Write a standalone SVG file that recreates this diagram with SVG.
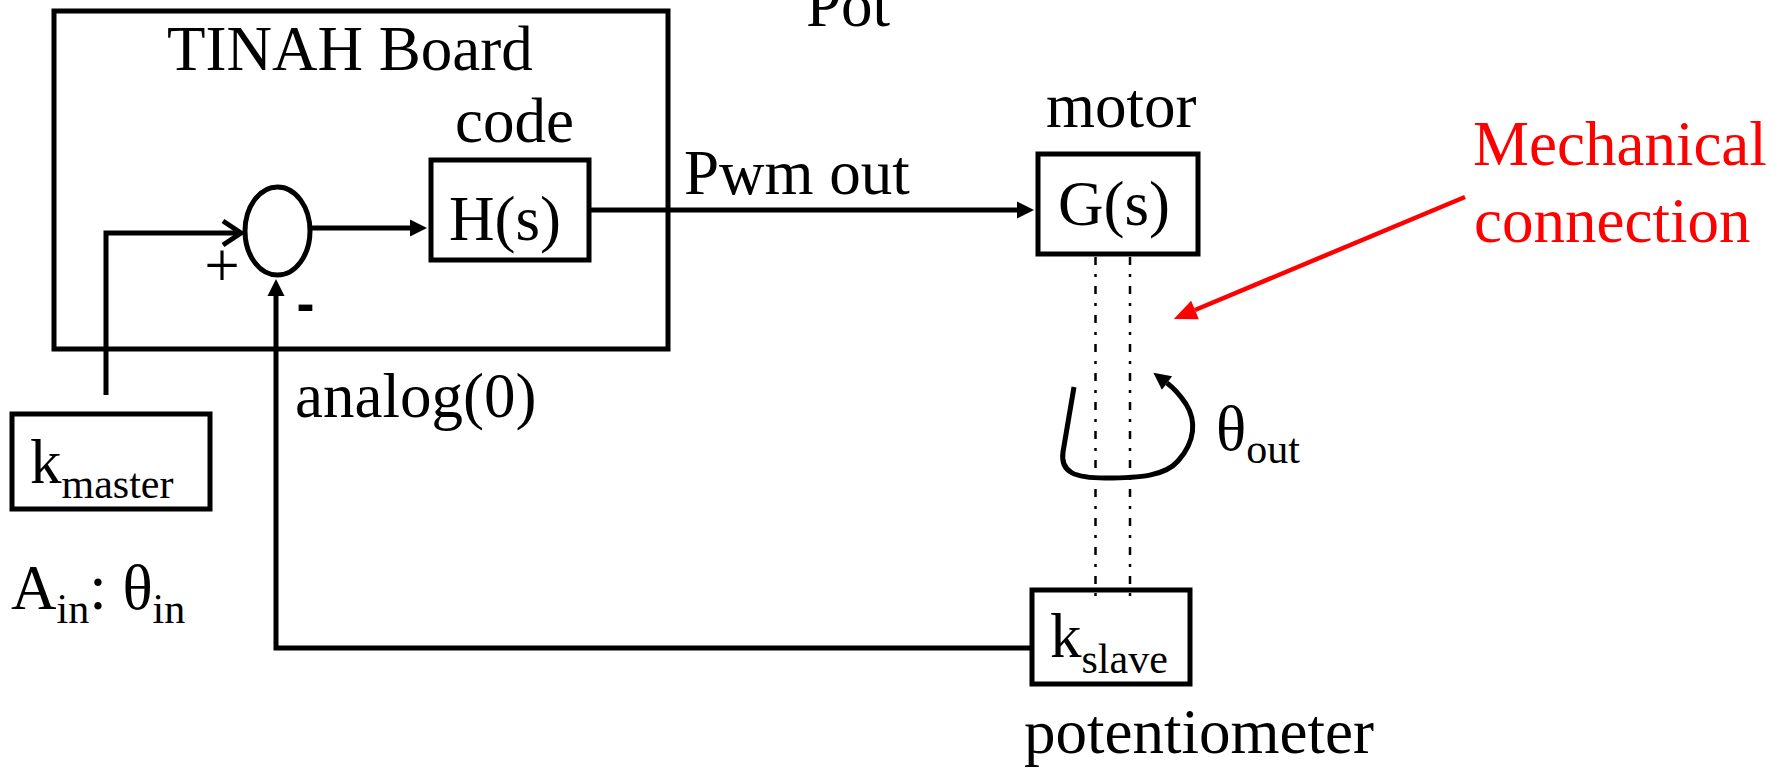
<svg xmlns="http://www.w3.org/2000/svg" width="1789" height="768" viewBox="0 0 1789 768">
<style>
text{font-family:"Liberation Serif","Times New Roman",serif;font-size:63px;fill:#000}
.sub{font-size:42px}
.red{fill:#ff0000}
.box{fill:none;stroke:#000;stroke-width:5}
.ln{fill:none;stroke:#000;stroke-width:5}
.dd{fill:none;stroke:#000;stroke-width:2.5;stroke-dasharray:8 9 3 9}
</style>
<defs>
<marker id="ah" markerUnits="userSpaceOnUse" markerWidth="18" markerHeight="18" refX="0" refY="8.5" orient="auto" overflow="visible">
<path d="M0,0 L17,8.5 L0,17 z" fill="#000"/>
</marker>
<marker id="ahr" markerUnits="userSpaceOnUse" markerWidth="24" markerHeight="22" refX="0" refY="10" orient="auto" overflow="visible">
<path d="M0,0 L23,10 L0,20 z" fill="#ff0000"/>
</marker>
</defs>

<g id="tinah-board">
<rect class="box" x="54" y="11" width="614" height="338"/>
<text x="167" y="70">TINAH Board</text>
</g>

<g id="pot-label">
<text x="806" y="26">Pot</text>
</g>

<g id="summing-junction">
<ellipse class="ln" cx="277.5" cy="231" rx="32.5" ry="44"/>
<text x="222" y="287" text-anchor="middle">+</text>
<text x="305.5" y="322" text-anchor="middle" style="font-family:'Liberation Sans',Arial,sans-serif;font-weight:bold;font-size:54px">-</text>
</g>

<g id="controller">
<text x="455" y="142">code</text>
<rect class="box" x="431" y="160" width="158" height="100"/>
<text x="449" y="240">H(s)</text>
</g>

<g id="motor">
<text x="1046" y="127">motor</text>
<rect class="box" x="1038" y="154" width="160" height="100"/>
<text x="1058" y="225">G(s)</text>
</g>

<g id="k-master">
<rect class="box" x="12" y="414" width="198" height="95"/>
<text x="30" y="483">k<tspan class="sub" dy="15">master</tspan></text>
</g>

<g id="input-label">
<text x="11" y="609">A<tspan class="sub" dy="14">in</tspan><tspan dy="-14">: θ</tspan><tspan class="sub" dy="14">in</tspan></text>
</g>

<g id="k-slave">
<rect class="box" x="1032" y="590" width="158" height="94"/>
<text x="1050" y="657">k<tspan class="sub" dy="16">slave</tspan></text>
<text x="1024" y="753">potentiometer</text>
</g>

<g id="mechanical-note">
<text class="red" x="1473" y="165">Mechanical</text>
<text class="red" x="1474" y="242">connection</text>
</g>

<g id="rotation">
<path class="ln" d="M1074,387 L1063,452 C1060,473 1076,478 1105,478 C1140,478 1165,476 1178,461 C1196,441 1196,420 1186,404 C1180,395 1175,389 1167,383" marker-end="url(#ah)"/>
<text x="1216" y="450">θ<tspan class="sub" dy="13">out</tspan></text>
</g>

<g id="connectors">
<polyline class="ln" points="106,395 106,233 239,233"/>
<polyline class="ln" points="223,221 241,233 223,245"/>
<line class="ln" x1="310" y1="228" x2="410" y2="228" marker-end="url(#ah)"/>
<line class="ln" x1="591" y1="210" x2="1017" y2="210" marker-end="url(#ah)"/>
<text x="684" y="194">Pwm out</text>
<polyline class="ln" points="1030,648 276,648 276,296" marker-end="url(#ah)"/>
<text x="295" y="417">analog(0)</text>
<line class="dd" x1="1095.5" y1="257" x2="1095.5" y2="598"/>
<line class="dd" x1="1130" y1="257" x2="1130" y2="598"/>
<line x1="1465" y1="197" x2="1195" y2="310" stroke="#ff0000" stroke-width="4.5" marker-end="url(#ahr)"/>
</g>
</svg>
